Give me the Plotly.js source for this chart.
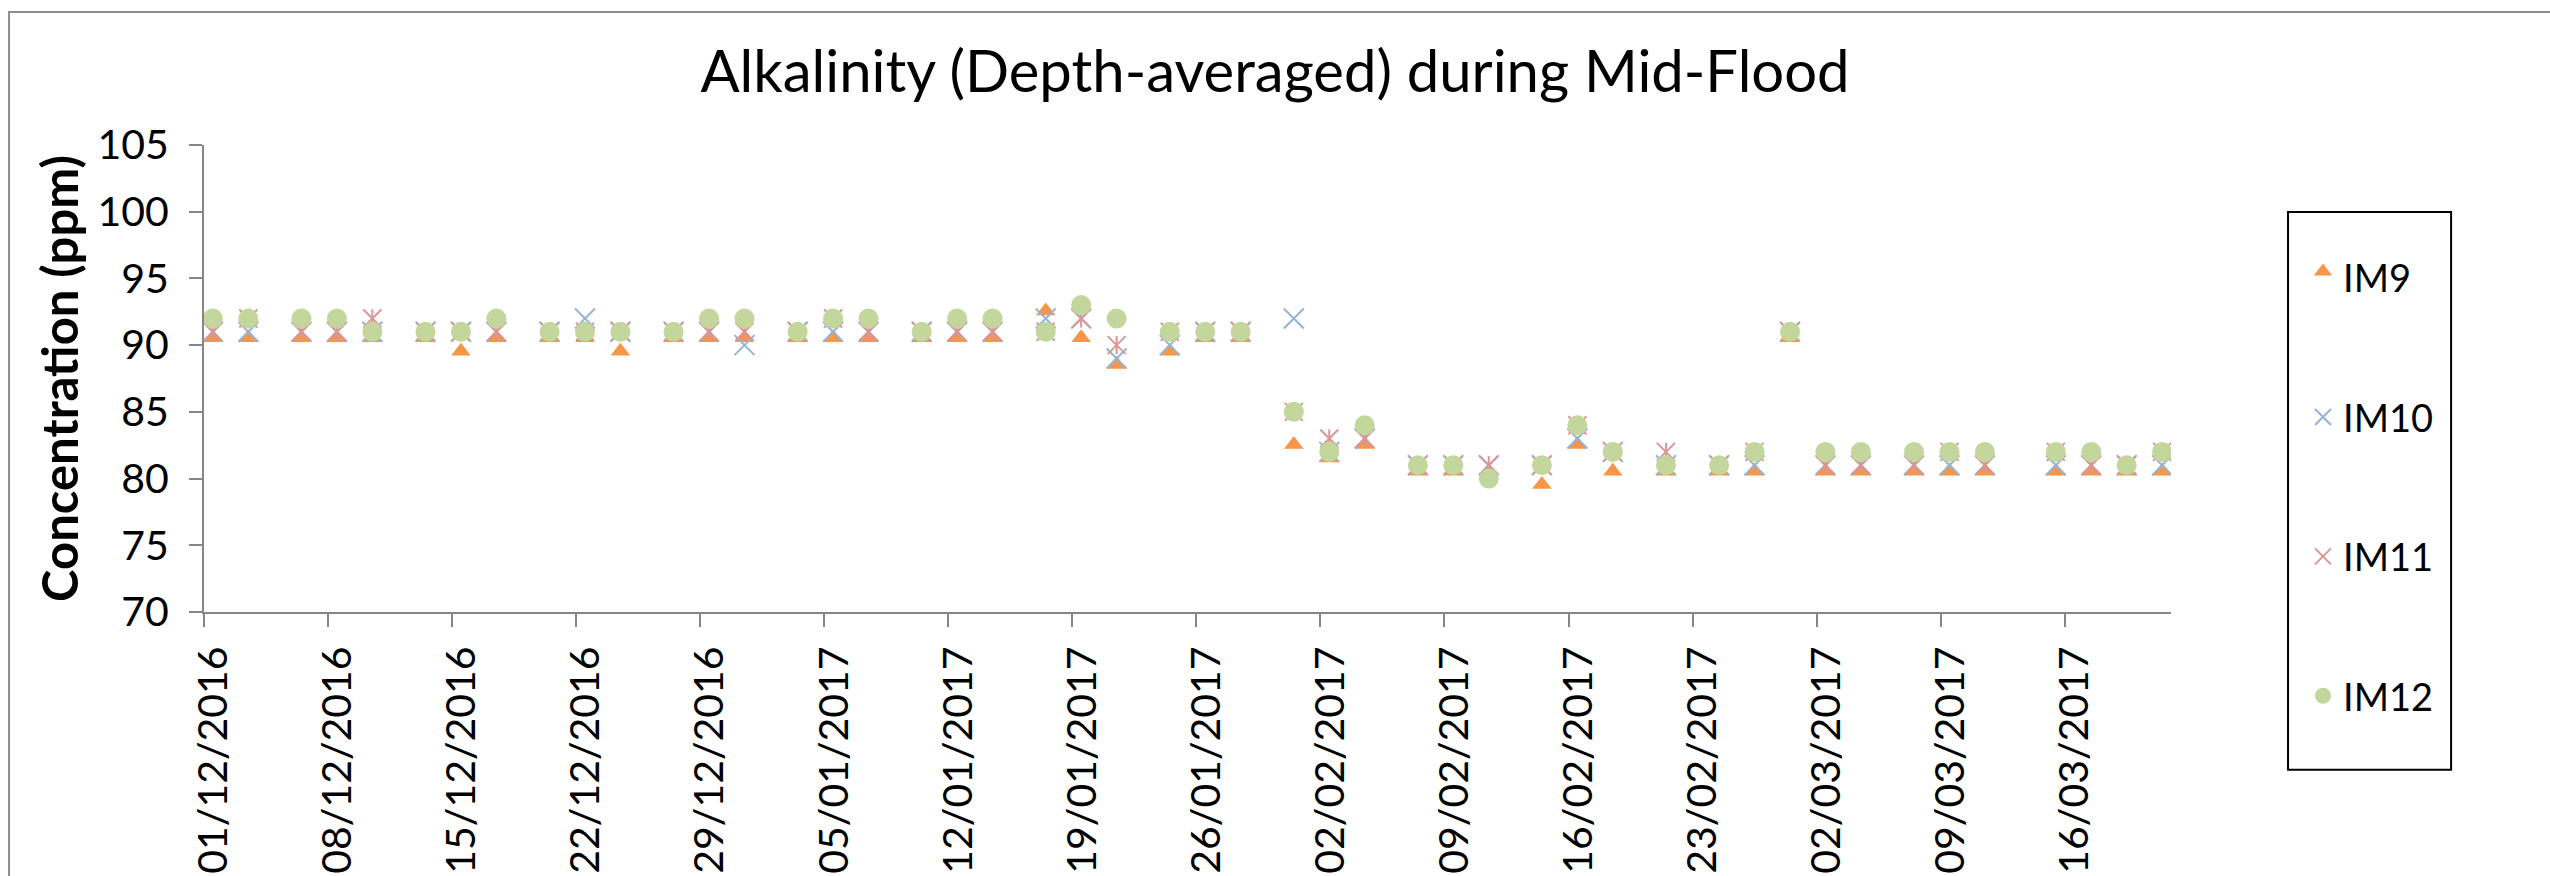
<!DOCTYPE html>
<html>
<head>
<meta charset="utf-8">
<script src="https://cdn.plot.ly/plotly-3.0.1.min.js"></script>
<style>
  html, body { margin: 0; padding: 0; background: #ffffff; }
  #chart { width: 2550px; height: 876px; }
</style>
</head>
<body>
<div id="chart"></div>
<script>
// ---- Data ----
const sampleDates = [
  '2016-12-01','2016-12-03','2016-12-06','2016-12-08','2016-12-10','2016-12-13','2016-12-15',
  '2016-12-17','2016-12-20','2016-12-22','2016-12-24','2016-12-27','2016-12-29','2016-12-31',
  '2017-01-03','2017-01-05','2017-01-07','2017-01-10','2017-01-12','2017-01-14','2017-01-17',
  '2017-01-19','2017-01-21','2017-01-24','2017-01-26','2017-01-28','2017-01-31',
  '2017-02-02','2017-02-04','2017-02-07','2017-02-09','2017-02-11','2017-02-14','2017-02-16',
  '2017-02-18','2017-02-21','2017-02-24','2017-02-26','2017-02-28',
  '2017-03-02','2017-03-04','2017-03-07','2017-03-09','2017-03-11','2017-03-15','2017-03-17',
  '2017-03-19','2017-03-21'
];

const IM9 = [
  91,91,91,91,91,91,90,91,91,91,90,91,91,91,
  91,91,91,91,91,91,93,91,89,90,91,91,83,
  82,83,81,81,81,80,83,81,81,81,81,91,
  81,81,81,81,81,81,81,81,81
];
const IM10 = [
  91,91,91,91,91,91,91,91,91,92,91,91,91,90,
  91,91,91,91,91,91,92,92,89,90,91,91,92,
  82,83,81,81,81,81,83,82,81,81,81,91,
  81,81,81,81,81,81,81,81,81
];
const IM11 = [
  91,92,91,91,92,91,91,91,91,91,91,91,91,91,
  91,92,91,91,91,91,91,92,90,91,91,91,85,
  83,83,81,81,81,81,84,82,82,81,82,91,
  81,81,81,82,81,82,81,81,82
];
const IM12 = [
  92,92,92,92,91,91,91,92,91,91,91,91,92,92,
  91,92,92,91,92,92,91,93,92,91,91,91,85,
  82,84,81,81,80,81,84,82,81,81,82,91,
  82,82,82,82,82,82,82,81,82
];

const seriesNames = ['IM9', 'IM10', 'IM11', 'IM12'];
const chartTitle = 'Alkalinity (Depth-averaged) during Mid-Flood';
const yAxisTitle = 'Concentration (ppm)';
const xRange = ['2016-12-01', '2017-03-22'];
const yRange = [70, 105];

// Excel date axis places each day's point in the middle of its day slot
const xs = sampleDates.map(d => d + ' 12:00');

const FONT = 'Lato, "Open Sans", sans-serif';

const traces = [
  {
    name: seriesNames[0], legendgroup: 'g9', x: xs, y: IM9, type: 'scatter', mode: 'markers',
    marker: { symbol: 'triangle-up', size: 17, color: '#F79646', line: { width: 0 }, standoff: 6 }
  },
  {
    name: seriesNames[1], legendgroup: 'g10', x: xs, y: IM10, type: 'scatter', mode: 'markers',
    marker: { symbol: 'x-thin-open', size: 20, color: '#95B3D7', line: { width: 2, color: '#95B3D7' } }
  },
  {
    name: seriesNames[2], legendgroup: 'g11', x: xs, y: IM11, type: 'scatter', mode: 'markers',
    marker: { symbol: 'x-thin-open', size: 18, color: '#D99694', line: { width: 2, color: '#D99694' } }
  },
  {
    name: seriesNames[2], legendgroup: 'g11', showlegend: false, x: xs, y: IM11, type: 'scatter', mode: 'markers',
    hoverinfo: 'skip',
    marker: { symbol: 'line-ns-open', size: 13, color: '#D99694', line: { width: 2, color: '#D99694' } }
  },
  {
    name: seriesNames[3], legendgroup: 'g12', x: xs, y: IM12, type: 'scatter', mode: 'markers',
    marker: { symbol: 'circle', size: 20, color: '#C3D69B', line: { width: 0 } }
  }
];

const layout = {
  width: 2550,
  height: 876,
  paper_bgcolor: '#ffffff',
  plot_bgcolor: '#ffffff',
  margin: { l: 204, r: 379, t: 145, b: 264, autoexpand: false },
  font: { family: FONT, color: '#000000' },
  title: {
    text: chartTitle,
    font: { family: FONT, size: 58, color: '#000000' },
    x: 0.5, xref: 'container', xanchor: 'center',
    y: 0.918, yref: 'container', yanchor: 'middle'
  },
  xaxis: {
    type: 'date',
    range: xRange,
    tick0: '2016-12-01',
    dtick: 7 * 24 * 3600 * 1000,
    tickformat: '%d/%m/%Y',
    tickangle: -90,
    tickfont: { family: FONT, size: 41, color: '#000000' },
    ticks: 'outside', ticklen: 13, tickwidth: 2, tickcolor: '#868686',
    showline: true, linecolor: '#868686', linewidth: 2,
    showgrid: false, zeroline: false,
    ticklabelstandoff: 3,
    ticklabelshift: 10,
    automargin: false, fixedrange: true
  },
  yaxis: {
    range: yRange,
    tick0: 70, dtick: 5,
    tickfont: { family: FONT, size: 41, color: '#000000' },
    ticks: 'outside', ticklen: 13, tickwidth: 2, tickcolor: '#868686',
    showline: true, linecolor: '#868686', linewidth: 2,
    showgrid: false, zeroline: false,
    ticklabelstandoff: 12,
    title: { text: yAxisTitle, font: { family: FONT, size: 49, color: '#000000', weight: 'bold' }, standoff: 3 },
    automargin: false, fixedrange: true
  },
  showlegend: true,
  legend: {
    x: 1.0671, xanchor: 'left',
    y: 0.783, yanchor: 'top',
    font: { family: FONT, size: 38, color: '#000000' },
    bgcolor: 'rgba(0,0,0,0)',
    borderwidth: 0,
    tracegroupgap: 87,
    maxheight: 3000,
    itemclick: false, itemdoubleclick: false
  },
  shapes: [
    // legend frame
    { type: 'rect', xref: 'paper', yref: 'paper', x0: 1.0595, x1: 1.1424, y0: -0.338, y1: 0.8565,
      line: { color: '#000000', width: 2 }, fillcolor: 'rgba(0,0,0,0)' },
    // chart area border
    { type: 'rect', xref: 'paper', yref: 'paper', x0: -0.0991, x1: 1.198, y0: -0.595, y1: 1.2848,
      line: { color: '#8c8c8c', width: 2 }, fillcolor: 'rgba(0,0,0,0)' }
  ],
  hovermode: false
};

Plotly.newPlot('chart', traces, layout, { displayModeBar: false, staticPlot: true });
</script>
</body>
</html>
